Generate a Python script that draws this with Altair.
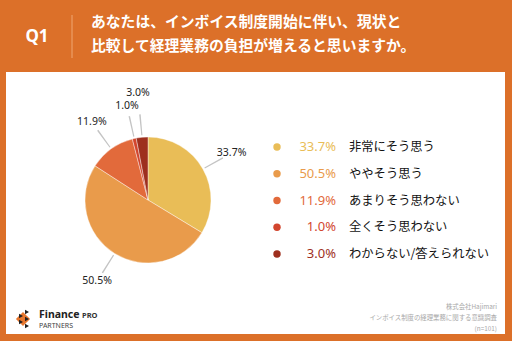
import altair as alt
import pandas as pd

# ---- data ----
categories = ["非常にそう思う", "ややそう思う", "あまりそう思わない", "全くそう思わない", "わからない/答えられない"]
values = [33.7, 50.5, 11.9, 1.0, 3.0]
pct_labels = ["33.7%", "50.5%", "11.9%", "1.0%", "3.0%"]
colors = ["#E9BD57", "#E99B4B", "#E26A3B", "#D2462E", "#9E2F1E"]
title_lines = ["あなたは、インボイス制度開始に伴い、現状と", "比較して経理業務の負担が増えると思いますか。"]
question = ["Q1"]
source_lines = ["株式会社Hajimari", "インボイス制度の経理業務に関する意識調査", "(n=101)"]

W, H = 512, 341
ORANGE = "#DC7029"
FONT = "Noto Sans CJK JP"

df = pd.DataFrame({
    "cat": categories,
    "value": values,
    "label": pct_labels,
    "idx": list(range(len(categories))),
})
total = sum(values)
theta_scale = alt.Scale(domain=[0, total])
color_scale = alt.Scale(domain=categories, range=colors)
one = pd.DataFrame({"a": [0]})

# white panel
panel = alt.Chart(one).mark_rect(color="white").encode(
    x=alt.value(6), x2=alt.value(505), y=alt.value(72), y2=alt.value(334)
)

# header
q_text = alt.Chart(pd.DataFrame({"t": question})).mark_text(
    font="Noto Sans", fontSize=17, fontWeight="bold", color="white", align="center", baseline="middle"
).encode(text="t:N", x=alt.value(37), y=alt.value(37))
vline = alt.Chart(one).mark_rule(color="#EFA673", strokeWidth=1).encode(
    x=alt.value(72), y=alt.value(15), y2=alt.value(58)
)
tdf = pd.DataFrame({"t": title_lines, "i": [0, 1]})
title_text = alt.Chart(tdf).mark_text(
    font=FONT, fontSize=14.8, fontWeight="bold", color="white", align="left", baseline="middle"
).encode(
    text="t:N", x=alt.value(91),
    y=alt.Y("i:O", scale=alt.Scale(type="point", domain=[0, 1], range=[23, 47], padding=0), axis=None),
)

# pie
pie = alt.Chart(df).mark_arc(outerRadius=63, stroke="white", strokeWidth=0.4).encode(
    theta=alt.Theta("value:Q", stack=True, scale=theta_scale),
    color=alt.Color("cat:N", scale=color_scale, legend=None),
    order=alt.Order("idx:Q"),
    x=alt.value(148), y=alt.value(200),
)

lab_base = alt.Chart(df).transform_window(
    cum="sum(value)", sort=[alt.SortField("idx")]
).transform_calculate(
    mid="datum.cum - datum.value / 2",
    m0="datum.cum - datum.value / 2 - 0.14",
    m1="datum.cum - datum.value / 2 + 0.14",
)

leaders = lab_base.mark_arc(innerRadius=65, outerRadius=86, color="#C4C4C4").encode(
    theta=alt.Theta("m0:Q", scale=theta_scale, stack=None),
    theta2="m1:Q",
    x=alt.value(148), y=alt.value(200),
)

lab_main = lab_base.transform_filter("datum.idx != 4").mark_text(
    radius=96, font="Noto Sans", fontSize=10.5, color="#222"
).encode(
    theta=alt.Theta("mid:Q", scale=theta_scale, stack=None),
    text="label:N", x=alt.value(148), y=alt.value(200),
)
lab_small = lab_base.transform_filter("datum.idx == 4").mark_text(
    radius=107, font="Noto Sans", fontSize=10.5, color="#222"
).encode(
    theta=alt.Theta("mid:Q", scale=theta_scale, stack=None),
    text="label:N", x=alt.value(148), y=alt.value(200),
)

# legend
ly = alt.Y("cat:N", sort=categories,
           scale=alt.Scale(type="point", domain=categories, range=[147, 254], padding=0), axis=None)
leg_dot = alt.Chart(df).mark_circle(size=55, opacity=1).encode(
    y=ly, x=alt.value(277), color=alt.Color("cat:N", scale=color_scale, legend=None)
)
leg_pct = alt.Chart(df).mark_text(
    font="Noto Sans", fontSize=13, align="right", baseline="middle"
).encode(
    y=ly, x=alt.value(336), text="label:N",
    color=alt.Color("cat:N", scale=color_scale, legend=None),
)
leg_txt = alt.Chart(df).mark_text(
    font=FONT, fontSize=12.3, align="left", baseline="middle", color="#111"
).encode(y=ly, x=alt.value(349), text="cat:N")

# footer source
sdf = pd.DataFrame({"t": source_lines, "i": [0, 1, 2]})
src = alt.Chart(sdf).mark_text(
    font=FONT, fontSize=6.4, align="right", baseline="middle", color="#A8A8A8"
).encode(
    text="t:N", x=alt.value(497),
    y=alt.Y("i:O", scale=alt.Scale(type="point", domain=[0, 1, 2], range=[307, 329], padding=0), axis=None),
)

# logo
logo_o = alt.Chart(one).mark_point(shape="diamond", filled=True, color="#E8772E", size=200, opacity=1).encode(
    x=alt.value(23), y=alt.value(319)
)
tri = pd.DataFrame({"px": [27, 27, 27, 21, 21], "py": [312, 319, 326, 316, 322]})
logo_k = alt.Chart(tri).mark_point(shape="triangle-right", filled=True, color="#222", size=22, opacity=1).encode(
    x=alt.X("px:Q", scale=None), y=alt.Y("py:Q", scale=None)
)
fin = alt.Chart(pd.DataFrame({"t": ["Finance"]})).mark_text(
    font="Noto Sans", fontSize=10.5, fontWeight="bold", color="#222", align="left", baseline="middle"
).encode(text="t:N", x=alt.value(39), y=alt.value(315))
pro = alt.Chart(pd.DataFrame({"t": ["PRO"]})).mark_text(
    font="Noto Sans", fontSize=7.5, fontWeight="bold", color="#333", align="left", baseline="middle"
).encode(text="t:N", x=alt.value(82), y=alt.value(316))
partners = alt.Chart(pd.DataFrame({"t": ["PARTNERS"]})).mark_text(
    font="Noto Sans", fontSize=7, color="#444", align="left", baseline="middle"
).encode(text="t:N", x=alt.value(39), y=alt.value(326))

chart = alt.layer(
    panel, q_text, vline, title_text, pie, leaders, lab_main, lab_small,
    leg_dot, leg_pct, leg_txt, src, logo_o, logo_k, fin, pro, partners
).resolve_scale(y="independent").properties(
    width=W, height=H, padding=0, autosize="none", background=ORANGE
).configure_view(stroke=None)

chart.save("out.html", embed_options={"renderer": "svg", "actions": False})
